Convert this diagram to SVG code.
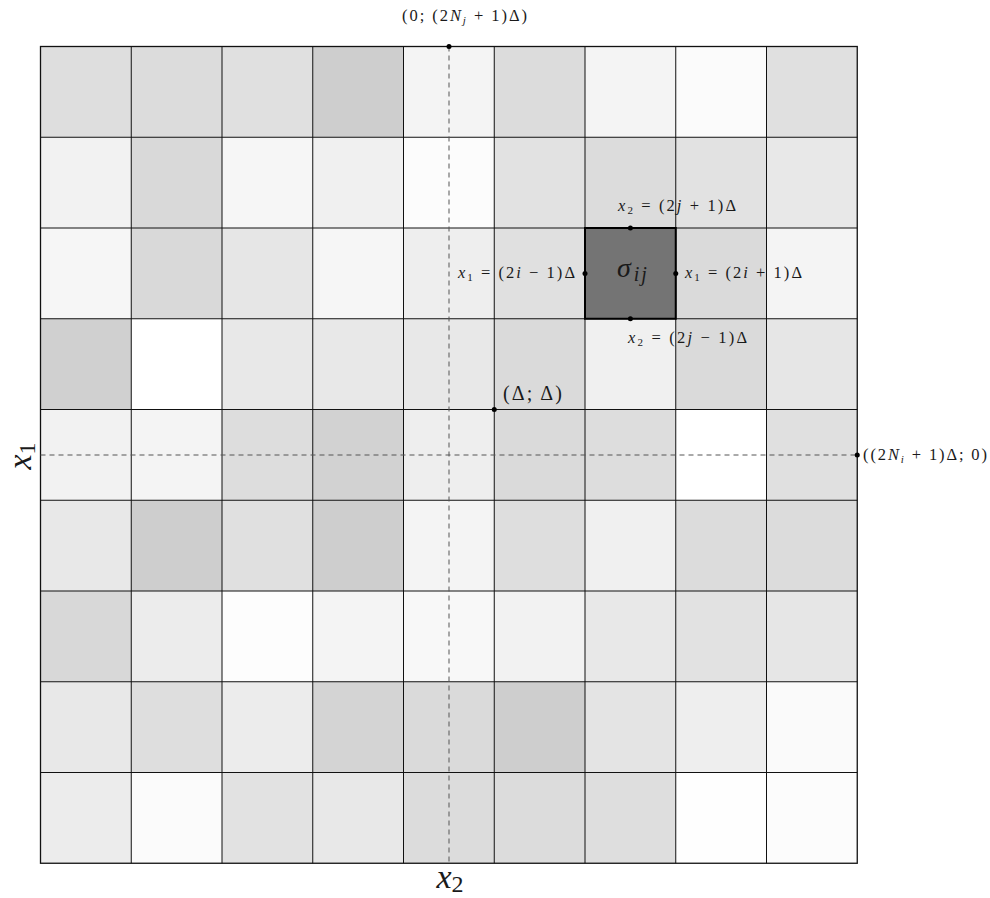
<svg xmlns="http://www.w3.org/2000/svg" width="990" height="898" viewBox="0 0 990 898">
<style>
.g line{stroke:#111;stroke-width:1}
.d{stroke:#555;stroke-width:1;stroke-dasharray:5,4;fill:none}
.i{font-style:italic}
.pt{fill:#000}
</style>
<rect width="990" height="898" fill="#fff"/>
<g id="cells">
<rect x="40.5" y="46.5" width="90.75" height="90.75" fill="#dedede"/>
<rect x="131.25" y="46.5" width="90.75" height="90.75" fill="#dcdcdc"/>
<rect x="222" y="46.5" width="90.75" height="90.75" fill="#e0e0e0"/>
<rect x="312.75" y="46.5" width="90.75" height="90.75" fill="#cecece"/>
<rect x="403.5" y="46.5" width="90.75" height="90.75" fill="#f4f4f4"/>
<rect x="494.25" y="46.5" width="90.75" height="90.75" fill="#dcdcdc"/>
<rect x="585" y="46.5" width="90.75" height="90.75" fill="#f4f4f4"/>
<rect x="675.75" y="46.5" width="90.75" height="90.75" fill="#fbfbfb"/>
<rect x="766.5" y="46.5" width="90.75" height="90.75" fill="#e0e0e0"/>
<rect x="40.5" y="137.25" width="90.75" height="90.75" fill="#f2f2f2"/>
<rect x="131.25" y="137.25" width="90.75" height="90.75" fill="#d9d9d9"/>
<rect x="222" y="137.25" width="90.75" height="90.75" fill="#f6f6f6"/>
<rect x="312.75" y="137.25" width="90.75" height="90.75" fill="#f0f0f0"/>
<rect x="403.5" y="137.25" width="90.75" height="90.75" fill="#fcfcfc"/>
<rect x="494.25" y="137.25" width="90.75" height="90.75" fill="#e2e2e2"/>
<rect x="585" y="137.25" width="90.75" height="90.75" fill="#dcdcdc"/>
<rect x="675.75" y="137.25" width="90.75" height="90.75" fill="#e2e2e2"/>
<rect x="766.5" y="137.25" width="90.75" height="90.75" fill="#e8e8e8"/>
<rect x="40.5" y="228" width="90.75" height="90.75" fill="#f6f6f6"/>
<rect x="131.25" y="228" width="90.75" height="90.75" fill="#d9d9d9"/>
<rect x="222" y="228" width="90.75" height="90.75" fill="#e6e6e6"/>
<rect x="312.75" y="228" width="90.75" height="90.75" fill="#f6f6f6"/>
<rect x="403.5" y="228" width="90.75" height="90.75" fill="#eeeeee"/>
<rect x="494.25" y="228" width="90.75" height="90.75" fill="#e0e0e0"/>
<rect x="585" y="228" width="90.75" height="90.75" fill="#747474"/>
<rect x="675.75" y="228" width="90.75" height="90.75" fill="#dadada"/>
<rect x="766.5" y="228" width="90.75" height="90.75" fill="#f4f4f4"/>
<rect x="40.5" y="318.75" width="90.75" height="90.75" fill="#d0d0d0"/>
<rect x="131.25" y="318.75" width="90.75" height="90.75" fill="#ffffff"/>
<rect x="222" y="318.75" width="90.75" height="90.75" fill="#e8e8e8"/>
<rect x="312.75" y="318.75" width="90.75" height="90.75" fill="#e8e8e8"/>
<rect x="403.5" y="318.75" width="90.75" height="90.75" fill="#e8e8e8"/>
<rect x="494.25" y="318.75" width="90.75" height="90.75" fill="#dadada"/>
<rect x="585" y="318.75" width="90.75" height="90.75" fill="#f0f0f0"/>
<rect x="675.75" y="318.75" width="90.75" height="90.75" fill="#dadada"/>
<rect x="766.5" y="318.75" width="90.75" height="90.75" fill="#e6e6e6"/>
<rect x="40.5" y="409.5" width="90.75" height="90.75" fill="#f2f2f2"/>
<rect x="131.25" y="409.5" width="90.75" height="90.75" fill="#f4f4f4"/>
<rect x="222" y="409.5" width="90.75" height="90.75" fill="#dddddd"/>
<rect x="312.75" y="409.5" width="90.75" height="90.75" fill="#d2d2d2"/>
<rect x="403.5" y="409.5" width="90.75" height="90.75" fill="#eeeeee"/>
<rect x="494.25" y="409.5" width="90.75" height="90.75" fill="#dadada"/>
<rect x="585" y="409.5" width="90.75" height="90.75" fill="#dddddd"/>
<rect x="675.75" y="409.5" width="90.75" height="90.75" fill="#ffffff"/>
<rect x="766.5" y="409.5" width="90.75" height="90.75" fill="#e0e0e0"/>
<rect x="40.5" y="500.25" width="90.75" height="90.75" fill="#e8e8e8"/>
<rect x="131.25" y="500.25" width="90.75" height="90.75" fill="#cecece"/>
<rect x="222" y="500.25" width="90.75" height="90.75" fill="#e0e0e0"/>
<rect x="312.75" y="500.25" width="90.75" height="90.75" fill="#cecece"/>
<rect x="403.5" y="500.25" width="90.75" height="90.75" fill="#f4f4f4"/>
<rect x="494.25" y="500.25" width="90.75" height="90.75" fill="#dedede"/>
<rect x="585" y="500.25" width="90.75" height="90.75" fill="#f0f0f0"/>
<rect x="675.75" y="500.25" width="90.75" height="90.75" fill="#dcdcdc"/>
<rect x="766.5" y="500.25" width="90.75" height="90.75" fill="#dcdcdc"/>
<rect x="40.5" y="591" width="90.75" height="90.75" fill="#d8d8d8"/>
<rect x="131.25" y="591" width="90.75" height="90.75" fill="#ececec"/>
<rect x="222" y="591" width="90.75" height="90.75" fill="#fdfdfd"/>
<rect x="312.75" y="591" width="90.75" height="90.75" fill="#f4f4f4"/>
<rect x="403.5" y="591" width="90.75" height="90.75" fill="#f8f8f8"/>
<rect x="494.25" y="591" width="90.75" height="90.75" fill="#f2f2f2"/>
<rect x="585" y="591" width="90.75" height="90.75" fill="#e8e8e8"/>
<rect x="675.75" y="591" width="90.75" height="90.75" fill="#e2e2e2"/>
<rect x="766.5" y="591" width="90.75" height="90.75" fill="#e6e6e6"/>
<rect x="40.5" y="681.75" width="90.75" height="90.75" fill="#e8e8e8"/>
<rect x="131.25" y="681.75" width="90.75" height="90.75" fill="#dedede"/>
<rect x="222" y="681.75" width="90.75" height="90.75" fill="#ececec"/>
<rect x="312.75" y="681.75" width="90.75" height="90.75" fill="#d4d4d4"/>
<rect x="403.5" y="681.75" width="90.75" height="90.75" fill="#dadada"/>
<rect x="494.25" y="681.75" width="90.75" height="90.75" fill="#cecece"/>
<rect x="585" y="681.75" width="90.75" height="90.75" fill="#e4e4e4"/>
<rect x="675.75" y="681.75" width="90.75" height="90.75" fill="#eeeeee"/>
<rect x="766.5" y="681.75" width="90.75" height="90.75" fill="#fafafa"/>
<rect x="40.5" y="772.5" width="90.75" height="90.75" fill="#ececec"/>
<rect x="131.25" y="772.5" width="90.75" height="90.75" fill="#fbfbfb"/>
<rect x="222" y="772.5" width="90.75" height="90.75" fill="#e2e2e2"/>
<rect x="312.75" y="772.5" width="90.75" height="90.75" fill="#e8e8e8"/>
<rect x="403.5" y="772.5" width="90.75" height="90.75" fill="#dcdcdc"/>
<rect x="494.25" y="772.5" width="90.75" height="90.75" fill="#dcdcdc"/>
<rect x="585" y="772.5" width="90.75" height="90.75" fill="#dedede"/>
<rect x="675.75" y="772.5" width="90.75" height="90.75" fill="#fefefe"/>
<rect x="766.5" y="772.5" width="90.75" height="90.75" fill="#fcfcfc"/>
</g>
<g id="grid" class="g">
<line x1="131.25" y1="46.5" x2="131.25" y2="863.25"/>
<line x1="222" y1="46.5" x2="222" y2="863.25"/>
<line x1="312.75" y1="46.5" x2="312.75" y2="863.25"/>
<line x1="403.5" y1="46.5" x2="403.5" y2="863.25"/>
<line x1="494.25" y1="46.5" x2="494.25" y2="863.25"/>
<line x1="585" y1="46.5" x2="585" y2="863.25"/>
<line x1="675.75" y1="46.5" x2="675.75" y2="863.25"/>
<line x1="766.5" y1="46.5" x2="766.5" y2="863.25"/>
<line x1="40.5" y1="137.25" x2="857.25" y2="137.25"/>
<line x1="40.5" y1="228" x2="857.25" y2="228"/>
<line x1="40.5" y1="318.75" x2="857.25" y2="318.75"/>
<line x1="40.5" y1="409.5" x2="857.25" y2="409.5"/>
<line x1="40.5" y1="500.25" x2="857.25" y2="500.25"/>
<line x1="40.5" y1="591" x2="857.25" y2="591"/>
<line x1="40.5" y1="681.75" x2="857.25" y2="681.75"/>
<line x1="40.5" y1="772.5" x2="857.25" y2="772.5"/>
<rect x="40.5" y="46.5" width="816.75" height="816.75" fill="none" stroke="#111" stroke-width="1.3"/>
</g>
<g id="connectors">
<line class="d" x1="449" y1="46.5" x2="449" y2="863.25"/>
<line class="d" x1="40.5" y1="455" x2="857.25" y2="455"/>
</g>
<g id="sigma" font-family="Liberation Serif, DejaVu Serif, serif" fill="#1a1a1a">
<rect x="585" y="228" width="90.75" height="90.75" fill="none" stroke="#000" stroke-width="2"/>
<text x="617" y="277" font-size="28"><tspan class="i">σ</tspan><tspan class="i" font-size="20" dy="4" dx="3" letter-spacing="2">ij</tspan></text>
</g>
<g id="points">
<circle class="pt" cx="449" cy="46.5" r="2.5"/>
<circle class="pt" cx="857.25" cy="455" r="2.5"/>
<circle class="pt" cx="494.25" cy="409.5" r="2.5"/>
<circle class="pt" cx="630.4" cy="228" r="2.5"/>
<circle class="pt" cx="630.4" cy="318.75" r="2.5"/>
<circle class="pt" cx="585" cy="273.4" r="2.5"/>
<circle class="pt" cx="675.75" cy="273.4" r="2.5"/>
</g>
<g id="labels" font-family="Liberation Serif, DejaVu Serif, serif" fill="#1a1a1a">
<text x="402" y="21" font-size="16.5" textLength="125" lengthAdjust="spacing">(0; (2<tspan class="i">N</tspan><tspan class="i" font-size="11" dy="3">j</tspan><tspan dy="-3"> + 1)Δ)</tspan></text>
<text x="618" y="211" font-size="16.5" textLength="118" lengthAdjust="spacing"><tspan class="i">x</tspan><tspan font-size="11" dy="3">2</tspan><tspan dy="-3"> = (2</tspan><tspan class="i">j</tspan> + 1)Δ</text>
<text x="458" y="278" font-size="16.5" textLength="117" lengthAdjust="spacing"><tspan class="i">x</tspan><tspan font-size="11" dy="3">1</tspan><tspan dy="-3"> = (2</tspan><tspan class="i">i</tspan> − 1)Δ</text>
<text x="685" y="278" font-size="16.5" textLength="117" lengthAdjust="spacing"><tspan class="i">x</tspan><tspan font-size="11" dy="3">1</tspan><tspan dy="-3"> = (2</tspan><tspan class="i">i</tspan> + 1)Δ</text>
<text x="628" y="343" font-size="16.5" textLength="119" lengthAdjust="spacing"><tspan class="i">x</tspan><tspan font-size="11" dy="3">2</tspan><tspan dy="-3"> = (2</tspan><tspan class="i">j</tspan> − 1)Δ</text>
<text x="503" y="400" font-size="20" textLength="59" lengthAdjust="spacing">(Δ; Δ)</text>
<text x="863" y="460" font-size="16.5" textLength="124" lengthAdjust="spacing">((2<tspan class="i">N</tspan><tspan class="i" font-size="11" dy="3">i</tspan><tspan dy="-3"> + 1)Δ; 0)</tspan></text>
<text x="0" y="0" font-size="34" transform="translate(31,456) rotate(-90)" text-anchor="middle"><tspan class="i">x</tspan><tspan font-size="24" dy="4">1</tspan></text>
<text x="450" y="888" font-size="34" text-anchor="middle"><tspan class="i">x</tspan><tspan font-size="24" dy="4">2</tspan></text>
</g>
</svg>
